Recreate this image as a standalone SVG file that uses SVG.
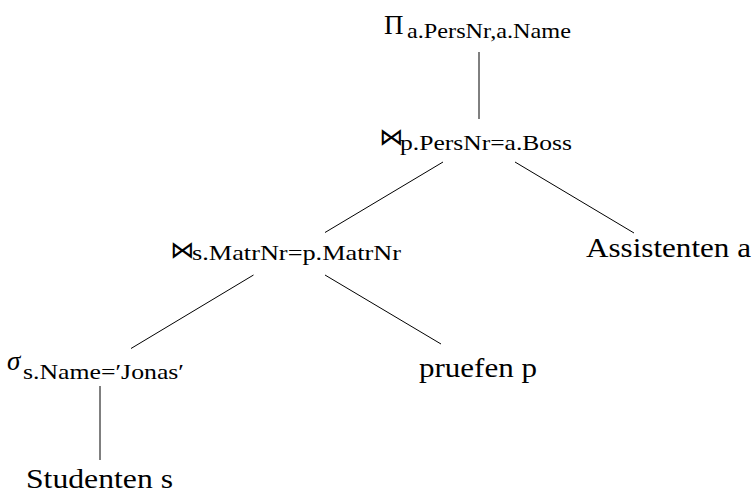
<svg xmlns="http://www.w3.org/2000/svg" width="754" height="493" viewBox="0 0 754 493">
<style>
.t{font-family:"Liberation Serif","DejaVu Serif",serif;fill:#000}
.m{font-size:27px}
.s{font-size:21px}
.op{font-family:"DejaVu Serif","DejaVu Sans",sans-serif;font-size:24px}
.e{stroke:#000;stroke-width:1;fill:none}
</style>
<rect width="754" height="493" fill="#fff"/>
<g id="connectors">
<line class="e" x1="479" y1="52" x2="479" y2="119"/>
<line class="e" x1="443" y1="162" x2="325" y2="232.5"/>
<line class="e" x1="515" y1="162" x2="634" y2="233"/>
<line class="e" x1="253.5" y1="275" x2="131" y2="348.5"/>
<line class="e" x1="325" y1="275" x2="441" y2="344"/>
<line class="e" x1="100" y1="386" x2="100" y2="460"/>
</g>
<g id="projection">
<text class="t"><tspan class="m" x="384" y="34">Π</tspan><tspan class="s" x="407" y="38" textLength="164" lengthAdjust="spacingAndGlyphs">a.PersNr,a.Name</tspan></text>
</g>
<g id="join1">
<text class="t"><tspan class="op" x="379" y="145">⋈</tspan><tspan class="s" x="400" y="149.5" textLength="172" lengthAdjust="spacingAndGlyphs">p.PersNr=a.Boss</tspan></text>
</g>
<g id="join2">
<text class="t"><tspan class="op" x="170" y="258">⋈</tspan><tspan class="s" x="192" y="260" textLength="209" lengthAdjust="spacingAndGlyphs">s.MatrNr=p.MatrNr</tspan></text>
</g>
<g id="assistenten">
<text class="t m" x="586" y="257" textLength="165" lengthAdjust="spacingAndGlyphs">Assistenten a</text>
</g>
<g id="selection">
<text class="t"><tspan class="m" x="7" y="370" font-style="italic">σ</tspan><tspan class="s" x="23" y="378.5" textLength="161" lengthAdjust="spacingAndGlyphs">s.Name=′Jonas′</tspan></text>
</g>
<g id="pruefen">
<text class="t m" x="419" y="377" textLength="118" lengthAdjust="spacingAndGlyphs">pruefen p</text>
</g>
<g id="studenten">
<text class="t m" x="26" y="487.5" textLength="147" lengthAdjust="spacingAndGlyphs">Studenten s</text>
</g>
</svg>
